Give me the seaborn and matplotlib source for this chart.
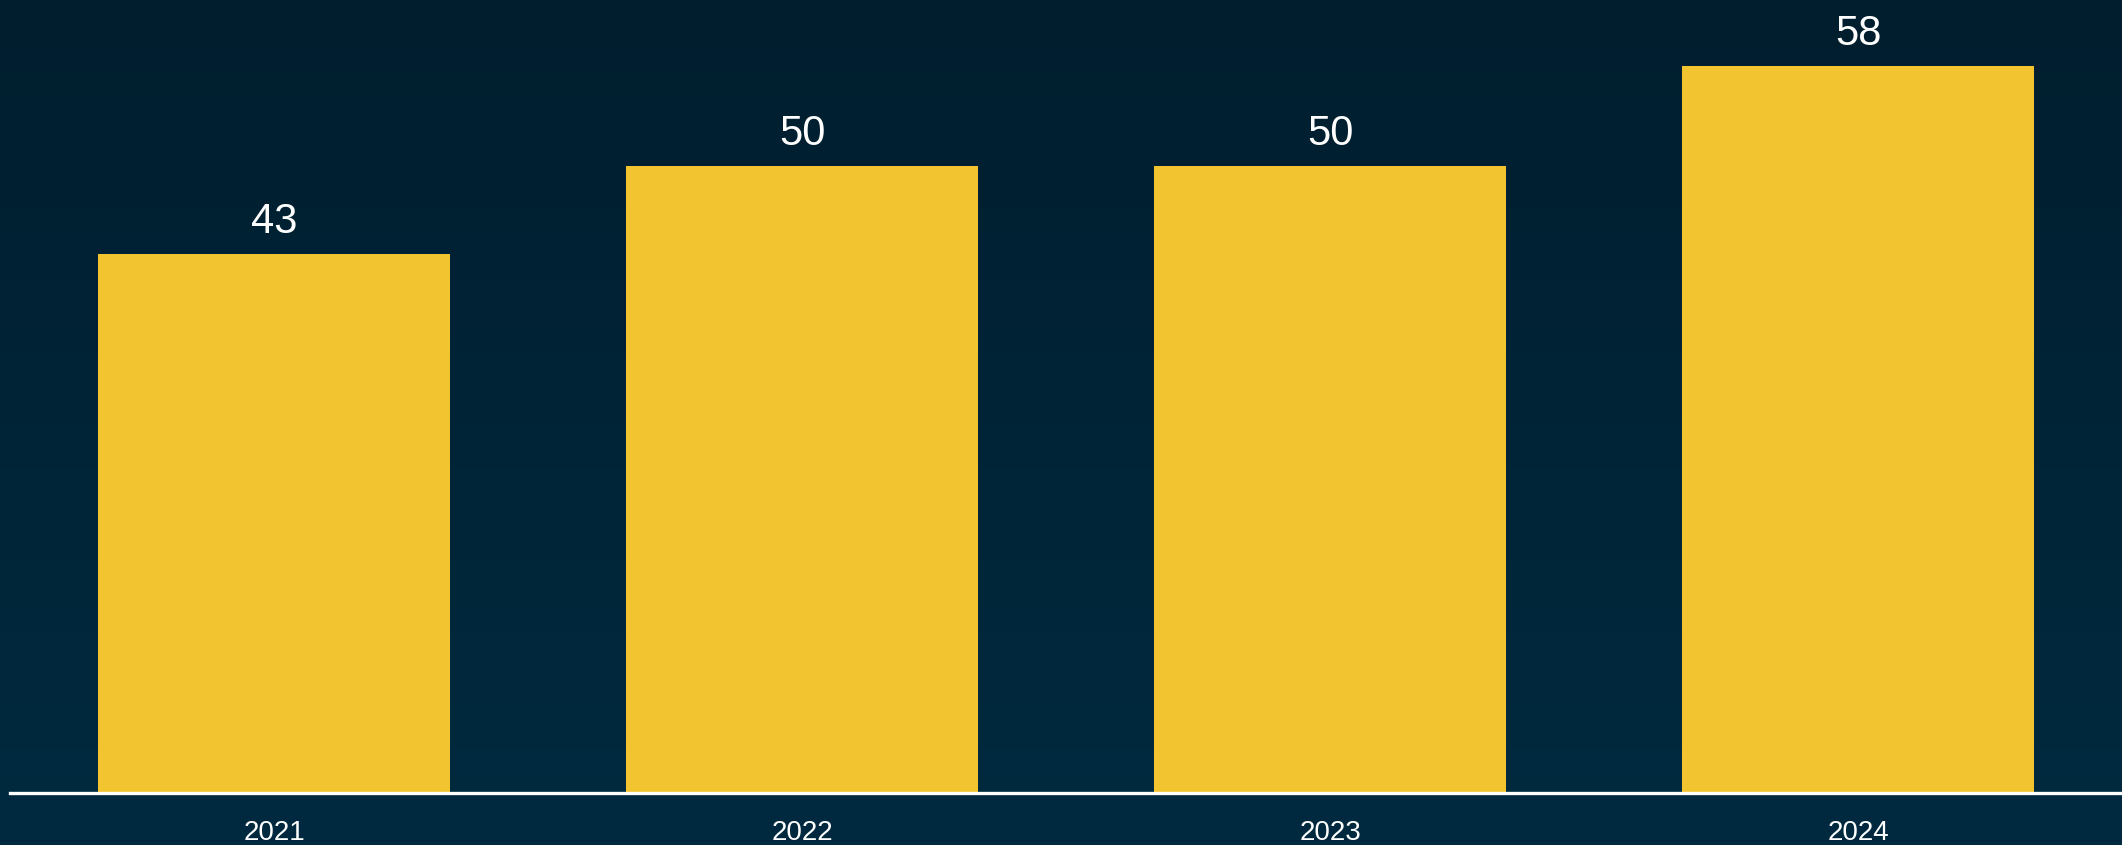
import numpy as np
import pandas as pd
import matplotlib
matplotlib.use("Agg")
import matplotlib.pyplot as plt
from matplotlib.colors import LinearSegmentedColormap
import seaborn as sns

# Data
years = ["2021", "2022", "2023", "2024"]
values = [43, 50, 50, 58]

BAR_COLOR = "#F2C430"
BG_TOP = "#001E2E"
BG_BOTTOM = "#002A40"

sns.set_theme(style="white")
plt.rcParams["font.family"] = ["Liberation Sans", "DejaVu Sans"]

fig = plt.figure(figsize=(21.222, 8.452), dpi=100)

# Vertical gradient background over the whole figure
bg = fig.add_axes([0, 0, 1, 1], zorder=0)
grad = np.linspace(0, 1, 256).reshape(-1, 1)
cmap = LinearSegmentedColormap.from_list("bg", [BG_TOP, BG_BOTTOM])
bg.imshow(grad, aspect="auto", cmap=cmap, extent=[0, 1, 0, 1], origin="upper")
bg.set_axis_off()

ax = fig.add_axes([10 / 2122, 1 - 793 / 845, 1 - 10 / 2122, 793 / 845], zorder=1)
ax.patch.set_alpha(0)

df = pd.DataFrame({"year": years, "value": values})
sns.barplot(data=df, x="year", y="value", color=BAR_COLOR, saturation=1,
            width=2 / 3, linewidth=0, edgecolor=BAR_COLOR, ax=ax)

ax.set_xlim(-0.5, len(years) - 0.5)
ax.set_ylim(0, 63.3)

ax.bar_label(ax.containers[0], labels=[str(v) for v in values], padding=9,
             color="white", fontsize=30)

for side in ("top", "right", "left"):
    ax.spines[side].set_visible(False)
ax.spines["bottom"].set_color("white")
ax.spines["bottom"].set_linewidth(2.4)
ax.spines["bottom"].set_zorder(3)

ax.set_yticks([])
ax.set_xlabel("")
ax.set_ylabel("")
ax.tick_params(axis="x", length=0, pad=19, labelsize=20, labelcolor="white")

fig.savefig("out.png", dpi=100)
